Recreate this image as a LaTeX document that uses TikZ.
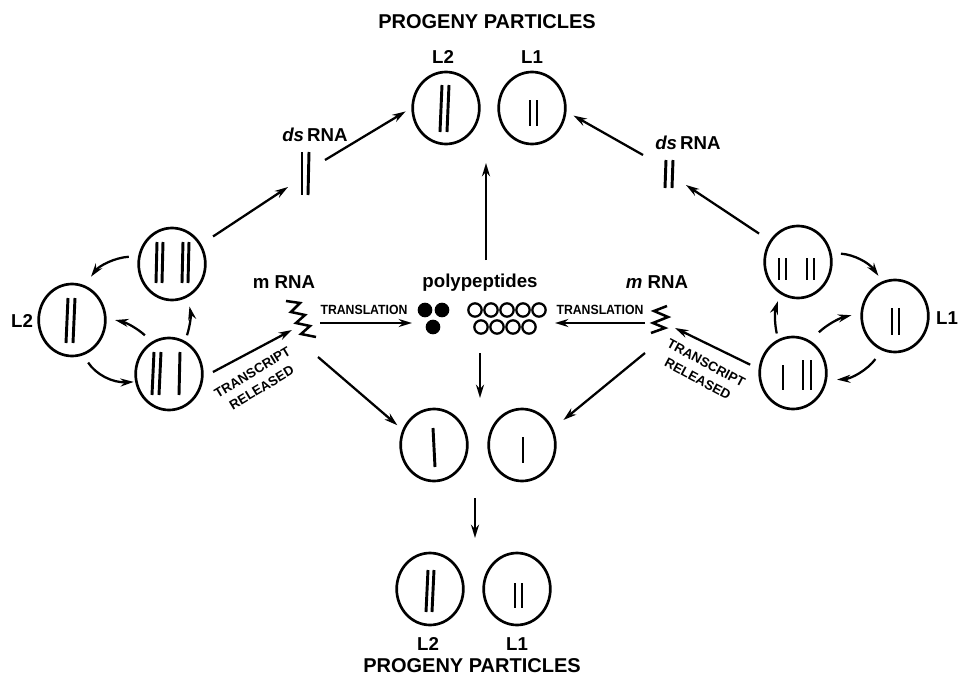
\documentclass[tikz,border=0pt]{standalone}
\usepackage{fontspec}
\usepackage{graphicx}
\setmainfont{Liberation Sans}
\usetikzlibrary{shapes.geometric,arrows.meta}
\begin{document}
\begin{tikzpicture}[x=0.75pt,y=-0.75pt,
  circ/.style={draw,ellipse,line width=2pt,minimum width=50pt,minimum height=54pt,inner sep=0pt},
  barline/.style={line width=2.2pt},
  arr/.style={line width=1.7pt,-{Stealth[length=10pt,width=6pt]}},
  lbl/.style={font=\bfseries\fontsize{14}{16}\selectfont,inner sep=0pt},
  blbl/.style={font=\bfseries\fontsize{14}{16}\selectfont,inner sep=0pt},
  sm/.style={font=\bfseries\fontsize{10}{13.5}\selectfont,inner sep=0pt,align=center},
  zz/.style={line width=1.9pt,line join=miter},
  fdot/.style={circle,fill,inner sep=0pt,minimum size=11pt},
  odot/.style={circle,draw,line width=1.7pt,inner sep=0pt,minimum size=10pt},
]
\useasboundingbox (0,0) rectangle (961,678);

% ---------- circles ----------
\node[circ] (T2) at (446,108) {};
\node[circ] (T1) at (532,108) {};
\node[circ] (Ltop) at (172,264) {};
\node[circ] (LL2) at (72,320) {};
\node[circ] (Lbot) at (169,374) {};
\node[circ] (Rtop) at (798,262) {};
\node[circ] (RL1) at (895,316) {};
\node[circ] (Rbot) at (793,373) {};
\node[circ] (Ml) at (434,445) {};
\node[circ] (Mr) at (522,445) {};
\node[circ] (B2) at (430,589) {};
\node[circ] (B1) at (517,589) {};

% ---------- inner segments ----------
\draw[barline] ([shift={(-4,-23)}]T2.center) -- ([shift={(-6,24)}]T2.center);
\draw[barline] ([shift={(3,-23)}]T2.center) -- ([shift={(1,24)}]T2.center);
\draw[barline] ([shift={(-2,-8)}]T1.center) -- ([shift={(-2,18)}]T1.center);
\draw[barline] ([shift={(5,-8)}]T1.center) -- ([shift={(5,18)}]T1.center);

\draw[barline] ([shift={(-15,-22)}]Ltop.center) -- ([shift={(-16,19)}]Ltop.center);
\draw[barline] ([shift={(-9,-22)}]Ltop.center) -- ([shift={(-10,19)}]Ltop.center);
\draw[barline] ([shift={(11,-22)}]Ltop.center) -- ([shift={(10,19)}]Ltop.center);
\draw[barline] ([shift={(17,-22)}]Ltop.center) -- ([shift={(16,19)}]Ltop.center);

\draw[barline] ([shift={(-4,-22)}]LL2.center) -- ([shift={(-6,23)}]LL2.center);
\draw[barline] ([shift={(3,-22)}]LL2.center) -- ([shift={(1,23)}]LL2.center);

\draw[barline] ([shift={(-15,-22)}]Lbot.center) -- ([shift={(-17,21)}]Lbot.center);
\draw[barline] ([shift={(-8,-22)}]Lbot.center) -- ([shift={(-10,21)}]Lbot.center);
\draw[barline] ([shift={(11,-22)}]Lbot.center) -- ([shift={(10,21)}]Lbot.center);

\draw[barline] ([shift={(-19,-4)}]Rtop.center) -- ([shift={(-19,18)}]Rtop.center);
\draw[barline] ([shift={(-12,-4)}]Rtop.center) -- ([shift={(-12,18)}]Rtop.center);
\draw[barline] ([shift={(9,-4)}]Rtop.center) -- ([shift={(9,18)}]Rtop.center);
\draw[barline] ([shift={(16,-4)}]Rtop.center) -- ([shift={(16,18)}]Rtop.center);

\draw[barline] ([shift={(-3,-8)}]RL1.center) -- ([shift={(-3,19)}]RL1.center);
\draw[barline] ([shift={(4,-8)}]RL1.center) -- ([shift={(4,19)}]RL1.center);

\draw[barline] ([shift={(-10,-8)}]Rbot.center) -- ([shift={(-10,17)}]Rbot.center);
\draw[barline] ([shift={(10,-13)}]Rbot.center) -- ([shift={(10,17)}]Rbot.center);
\draw[barline] ([shift={(18,-13)}]Rbot.center) -- ([shift={(18,17)}]Rbot.center);

\draw[barline] ([shift={(-1,-17)}]Ml.center) -- ([shift={(1,22)}]Ml.center);
\draw[barline] ([shift={(1,-8)}]Mr.center) -- ([shift={(1,18)}]Mr.center);

\draw[barline] ([shift={(-2,-19)}]B2.center) -- ([shift={(-4,23)}]B2.center);
\draw[barline] ([shift={(4,-19)}]B2.center) -- ([shift={(2,23)}]B2.center);
\draw[barline] ([shift={(-2,-6)}]B1.center) -- ([shift={(-2,19)}]B1.center);
\draw[barline] ([shift={(5,-6)}]B1.center) -- ([shift={(5,19)}]B1.center);

% ---------- ds RNA bars ----------
\coordinate (dsL) at (305,174);
\coordinate (dsR) at (668,174);
\draw[barline] (302,152) -- (302,195);
\draw[barline] (309,152) -- (308,195);
\draw[barline] (666,160) -- (665,188);
\draw[barline] (673,160) -- (672,188);

% ---------- zigzags ----------
\draw[zz] (286,301) -- (300,303) -- (291,312) -- (305,315) -- (296,323) -- (310,326) -- (301,334) -- (316,337);
\draw[zz] (667,306) -- (654,311) -- (668,317) -- (653,323) -- (665,328) -- (651,333);

% ---------- polypeptide dots ----------
\node[fdot] (f1) at (425,310) {};
\node[fdot] (f2) at (442,310) {};
\node[fdot] (f3) at (433,327) {};
\foreach \i/\xx in {1/475,2/491,3/507,4/523,5/539}{\node[odot] (oa\i) at (\xx,310) {};}
\foreach \i/\xx in {1/481,2/497,3/513,4/529}{\node[odot] (ob\i) at (\xx,327) {};}

% ---------- texts ----------
\node[lbl,font=\bfseries\fontsize{15}{17}\selectfont] (title) at (487,22) {PROGENY PARTICLES};
\node[lbl] (lT2) at (443,57) {L2};
\node[lbl] (lT1) at (532,57) {L1};
\node[lbl] (dsLt) at (315,135) {\textit{ds}\,RNA};
\node[lbl] (dsRt) at (688,143) {\textit{ds}\,RNA};
\node[blbl] (mL) at (284,282) {m RNA};
\node[blbl] (mR) at (657,282) {\textit{m} RNA};
\node[blbl] (pp) at (480,283) {polypeptides};
\node[sm] (trL) at (364,310) {\scalebox{0.92}[1]{TRANSLATION}};
\node[sm] (trR) at (600,310) {\scalebox{0.92}[1]{TRANSLATION}};
\node[lbl] (lL2) at (22,321) {L2};
\node[lbl] (lL1) at (947,318) {L1};
\node[sm,rotate=31] (tsL) at (257,380) {TRANSCRIPT\\RELEASED};
\node[sm,rotate=-28] (tsR) at (702,371) {TRANSCRIPT\\RELEASED};
\node[lbl] (lB2) at (428,644) {L2};
\node[lbl] (lB1) at (517,644) {L1};
\node[lbl,font=\bfseries\fontsize{15}{17}\selectfont] (title2) at (472,666) {PROGENY PARTICLES};

% ---------- connector end coordinates ----------
\coordinate (dsLin) at (288,187);
\coordinate (dsLout) at (325,160);
\coordinate (dsRin) at (686,185);
\coordinate (dsRout) at (643,155);
\coordinate (upS) at (486,260);
\coordinate (upE) at (486,163);
\coordinate (zLa) at (320,323);
\coordinate (dotsL) at (412,323);
\coordinate (zRa) at (645,323);
\coordinate (dotsR) at (555,323);
\coordinate (zLin) at (292,330);
\coordinate (zRin) at (675,328);
\coordinate (dnS) at (480,353);
\coordinate (dnE) at (480,398);
\coordinate (zLout) at (318,357);
\coordinate (zRout) at (645,353);
\coordinate (dn2S) at (475,498);
\coordinate (dn2E) at (475,538);

% ---------- straight connectors ----------
\draw[arr,shorten <=10.5pt] (Ltop.34) -- (dsLin);
\draw[arr,shorten >=5pt] (dsLout) -- (T2.west);
\draw[arr,shorten >=6pt] (dsRout) -- (T1.-6);
\draw[arr,shorten <=9.5pt] (Rtop.143) -- (dsRin);
\draw[arr] (upS) -- (upE);
\draw[arr] (zLa) -- (dotsL);
\draw[arr] (zRa) -- (dotsR);
\draw[arr,shorten <=8pt] (Lbot.-5) -- (zLin);
\draw[arr,shorten <=7pt] (Rbot.173) -- (zRin);
\draw[arr] (dnS) -- (dnE);
\draw[arr,shorten >=5pt] (zLout) -- (Ml.154);
\draw[arr,shorten >=10pt] (zRout) -- (Mr.28);
\draw[arr] (dn2S) -- (dn2E);

% ---------- curved connectors ----------
\draw[arr,shorten <=7pt,shorten >=8pt] (Ltop.167) to[bend right=25] (LL2.70);
\draw[arr,shorten <=7pt,shorten >=6.5pt] (Lbot.118) to[bend right=15] (LL2.3);
\draw[arr,shorten <=6.5pt,shorten >=1pt] (LL2.-72) to[bend right=30] (Lbot.193);
\draw[arr,shorten <=4.5pt,shorten >=7pt] (Lbot.64) to[bend right=15] (Ltop.-65);

\draw[arr,shorten <=7pt,shorten >=5pt] (Rtop.15) to[bend left=25] (RL1.110);
\draw[arr,shorten <=9pt,shorten >=7pt] (Rbot.62) to[bend left=15] (RL1.175);
\draw[arr,shorten <=8pt,shorten >=7.5pt] (RL1.-111) to[bend left=25] (Rbot.-12);
\draw[arr,shorten <=4.5pt,shorten >=5.5pt] (Rbot.114) to[bend left=15] (Rtop.-119);
\end{tikzpicture}
\end{document}
